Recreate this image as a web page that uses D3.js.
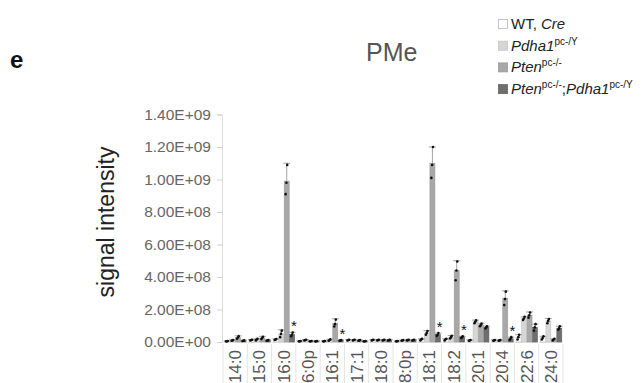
<!DOCTYPE html>
<html>
<head>
<meta charset="utf-8">
<script src="https://cdn.jsdelivr.net/npm/d3@7"></script>
<style>
  body { margin: 0; background: #fff; }
  svg { font-family: "Liberation Sans", Arial, sans-serif; display: block; }
</style>
</head>
<body>
<div id="chart"></div>
<script>
// values are in units of 1e8 (signal intensity)
var categories = ["14:0", "15:0", "16:0", "16:0p", "16:1", "17:1", "18:0", "18:0p", "18:1", "18:2", "20:1", "20:4", "22:6", "24:0"];
var seriesNames = ["WT", "Pdha1", "Pten", "PtenPdha1"];

var wtMean    = [0.05, 0.12, 0.15, 0.05, 0.05, 0.12, 0.12, 0.05, 0.15, 0.15, 0.1, 0.1, 0.3, 0.25];
var wtSd      = [0.02, 0.03, 0.05, 0.02, 0.02, 0.02, 0.02, 0.02, 0.05, 0.05, 0.03, 0.03, 0.15, 0.1];
var pdhaMean  = [0.1, 0.15, 0.5, 0.12, 0.12, 0.12, 0.12, 0.1, 0.55, 0.3, 1.25, 0.1, 1.45, 1.3];
var pdhaSd    = [0.03, 0.05, 0.25, 0.03, 0.05, 0.02, 0.02, 0.02, 0.15, 0.1, 0.1, 0.03, 0.1, 0.15];
var ptenMean  = [0.28, 0.25, 9.9, 0.05, 1.15, 0.1, 0.12, 0.12, 11.0, 4.4, 1.05, 2.7, 1.65, 0.15];
var ptenSd    = [0.1, 0.1, 1.1, 0.02, 0.28, 0.02, 0.02, 0.02, 1.0, 0.6, 0.1, 0.45, 0.2, 0.05];
var doubleMean = [0.08, 0.1, 0.45, 0.05, 0.1, 0.05, 0.12, 0.12, 0.45, 0.3, 0.9, 0.2, 0.9, 0.85];
var doubleSd   = [0.03, 0.03, 0.15, 0.02, 0.03, 0.02, 0.02, 0.02, 0.1, 0.05, 0.08, 0.1, 0.2, 0.12];

// individual data points (3 per bar)
var wtDots = [[0.04,0.05,0.06],[0.1,0.12,0.14],[0.12,0.15,0.18],[0.04,0.05,0.06],[0.04,0.05,0.06],[0.1,0.12,0.14],[0.1,0.12,0.14],
              [0.04,0.05,0.06],[0.1,0.15,0.2],[0.1,0.15,0.2],[0.08,0.1,0.12],[0.08,0.1,0.12],[0.15,0.3,0.45],[0.15,0.25,0.35]];
var pdhaDots = [[0.08,0.1,0.12],[0.1,0.15,0.2],[0.3,0.5,0.7],[0.1,0.12,0.14],[0.08,0.12,0.16],[0.1,0.12,0.14],[0.1,0.12,0.14],
                [0.08,0.1,0.12],[0.45,0.55,0.68],[0.22,0.3,0.38],[1.15,1.25,1.33],[0.08,0.1,0.12],[1.35,1.45,1.55],[1.15,1.3,1.42]];
var ptenDots = [[0.2,0.28,0.36],[0.18,0.25,0.32],[9.1,9.8,10.9],[0.04,0.05,0.06],[0.95,1.1,1.38],[0.08,0.1,0.12],[0.1,0.12,0.14],
                [0.1,0.12,0.14],[10.1,10.9,12.0],[3.8,4.4,4.95],[0.97,1.05,1.13],[2.27,2.64,3.1],[1.5,1.65,1.82],[0.1,0.15,0.2]];
var doubleDots = [[0.06,0.08,0.1],[0.08,0.1,0.12],[0.35,0.45,0.58],[0.04,0.05,0.06],[0.08,0.1,0.12],[0.04,0.05,0.06],[0.1,0.12,0.14],
                  [0.1,0.12,0.14],[0.38,0.45,0.55],[0.25,0.3,0.35],[0.83,0.9,0.97],[0.12,0.2,0.3],[0.7,0.9,1.1],[0.75,0.85,0.97]];

var starCategories = ["16:0", "16:1", "18:1", "18:2", "20:4"];
var yTicks = [0, 2, 4, 6, 8, 10, 12, 14];

var seriesColors = ["#ffffff", "#d6d6d6", "#a8a8a8", "#6e6e6e"];
var seriesStrokes = ["#b5b5b5", "#c4c4c4", "#999999", "#636363"];

var w = 642, h = 383;
var svg = d3.select("#chart").append("svg").attr("width", w).attr("height", h);

var series = [
    {mean: wtMean, sd: wtSd, dots: wtDots},
    {mean: pdhaMean, sd: pdhaSd, dots: pdhaDots},
    {mean: ptenMean, sd: ptenSd, dots: ptenDots},
    {mean: doubleMean, sd: doubleSd, dots: doubleDots}
];

var xScale = d3.scaleBand().domain(categories).range([223, 563]).paddingInner(0.1).paddingOuter(0.05);
var xSub = d3.scaleBand().domain(seriesNames).range([0, xScale.bandwidth()]);
var yScale = d3.scaleLinear().domain([0, 14]).range([342, 114.5]);

function sci(v) {
    var s = d3.format(".2e")(v * 1e8); // e.g. 1.40e+9
    var m = s.split("e");
    var exp = m[1];
    var sign = exp[0];
    var digits = exp.slice(1);
    if (digits.length < 2) digits = "0" + digits;
    return m[0] + "E" + sign + digits;
}

// y axis
var yAxis = d3.axisLeft(yScale).tickValues(yTicks).tickFormat(sci).tickSize(5).tickPadding(6);
var yg = svg.append("g").attr("transform", "translate(222,0)").call(yAxis);
yg.select(".domain").attr("stroke", "#dcdcdc");
yg.selectAll(".tick line").attr("stroke", "#cfcfcf");
yg.selectAll(".tick text").attr("fill", "#666").style("font-size", "15.5px")
    .style("font-family", "'Liberation Sans', Arial, sans-serif");

// category separators below the baseline
var bounds = d3.range(categories.length + 1);
var step = xScale.step();
var firstEdge = xScale.range()[0] + xScale.paddingOuter() * step - xScale.paddingInner() * step / 2;
svg.append("g").selectAll("line").data(bounds).join("line")
    .attr("x1", d => firstEdge + d * step)
    .attr("x2", d => firstEdge + d * step)
    .attr("y1", 344).attr("y2", 383)
    .attr("stroke", "#e4e4e4").attr("stroke-width", 1);

svg.append("line").attr("x1", 222).attr("x2", 563).attr("y1", yScale(0) + 0.5).attr("y2", yScale(0) + 0.5)
    .attr("stroke", "#e8e8e8");

// category labels
svg.append("g").selectAll("text").data(categories).join("text")
    .attr("transform", d => "translate(" + (xScale(d) + xScale.bandwidth() / 2) + ",350) rotate(-90)")
    .attr("dy", "0.35em")
    .attr("text-anchor", "end")
    .attr("fill", "#555")
    .style("font-size", "17px")
    .text(d => d);

// bars
series.forEach(function(s, i) {
    var g = svg.append("g");
    g.selectAll("rect").data(categories).join("rect")
        .attr("x", d => xScale(d) + xSub(seriesNames[i]) + 0.5)
        .attr("width", xSub.bandwidth() - 0.5)
        .attr("y", (d, j) => yScale(s.mean[j]))
        .attr("height", (d, j) => yScale(0) - yScale(s.mean[j]))
        .attr("fill", seriesColors[i])
        .attr("stroke", seriesStrokes[i])
        .attr("stroke-width", 0.6);
});

// error bars
series.forEach(function(s, i) {
    var g = svg.append("g").attr("stroke", "#9a9a9a").attr("stroke-width", 0.9);
    categories.forEach(function(c, j) {
        var cx = xScale(c) + xSub(seriesNames[i]) + xSub.bandwidth() / 2 + 0.25;
        var top = yScale(s.mean[j] + s.sd[j]);
        g.append("line").attr("x1", cx).attr("x2", cx).attr("y1", yScale(s.mean[j])).attr("y2", top);
        g.append("line").attr("x1", cx - 3.5).attr("x2", cx + 3.5).attr("y1", top).attr("y2", top);
    });
});

// data points
series.forEach(function(s, i) {
    var pts = [];
    categories.forEach(function(c, j) {
        s.dots[j].forEach(function(v, k) {
            pts.push({c: c, v: v, k: k});
        });
    });
    svg.append("g").selectAll("circle").data(pts).join("circle")
        .attr("cx", d => xScale(d.c) + xSub(seriesNames[i]) + xSub.bandwidth() / 2 + (d.k - 1) * 0.8)
        .attr("cy", d => yScale(d.v))
        .attr("r", 1.3)
        .attr("fill", "#111");
});

// significance stars
svg.append("g").selectAll("text").data(starCategories).join("text")
    .attr("x", d => xScale(d) + xSub("PtenPdha1") + xSub.bandwidth() / 2 + 2)
    .attr("y", function(d) {
        var j = categories.indexOf(d);
        return yScale(doubleMean[j] + doubleSd[j]) - 1;
    })
    .attr("text-anchor", "middle")
    .attr("fill", "#111")
    .style("font-size", "15px")
    .text("*");

// y axis title
svg.append("text")
    .attr("transform", "translate(114,222) rotate(-90)")
    .attr("text-anchor", "middle")
    .attr("fill", "#222")
    .style("font-size", "23px")
    .text("signal intensity");

// panel letter and title
svg.append("text").attr("x", 10).attr("y", 68)
    .style("font-size", "24px").style("font-weight", "bold").attr("fill", "#111").text("e");
svg.append("text").attr("x", 366).attr("y", 61)
    .style("font-size", "25px").attr("fill", "#555").text("PMe");

// legend
var legendRows = [
    [{t: "WT, "}, {t: "Cre", i: true}],
    [{t: "Pdha1", i: true}, {t: "pc-/Y", sup: true}],
    [{t: "Pten", i: true}, {t: "pc-/-", sup: true}],
    [{t: "Pten", i: true}, {t: "pc-/-", sup: true}, {t: ";"}, {t: "Pdha1", i: true}, {t: "pc-/Y", sup: true}]
];
var legend = svg.append("g").attr("transform", "translate(498,0)");
legendRows.forEach(function(parts, i) {
    var cy = 24 + i * 21.7;
    legend.append("rect").attr("x", 0.5).attr("y", cy - 4.5).attr("width", 9).attr("height", 9)
        .attr("fill", seriesColors[i]).attr("stroke", seriesStrokes[i]).attr("stroke-width", 0.8);
    var txt = legend.append("text").attr("x", 13).attr("y", cy + 5)
        .attr("fill", "#222").style("font-size", "15px");
    var raised = false;
    parts.forEach(function(p) {
        var ts = txt.append("tspan").text(p.t);
        if (p.i) ts.style("font-style", "italic");
        if (p.sup) {
            ts.style("font-size", "10px").attr("dy", -6);
            raised = true;
        } else if (raised) {
            ts.attr("dy", 6);
            raised = false;
        }
    });
});
</script>
</body>
</html>
